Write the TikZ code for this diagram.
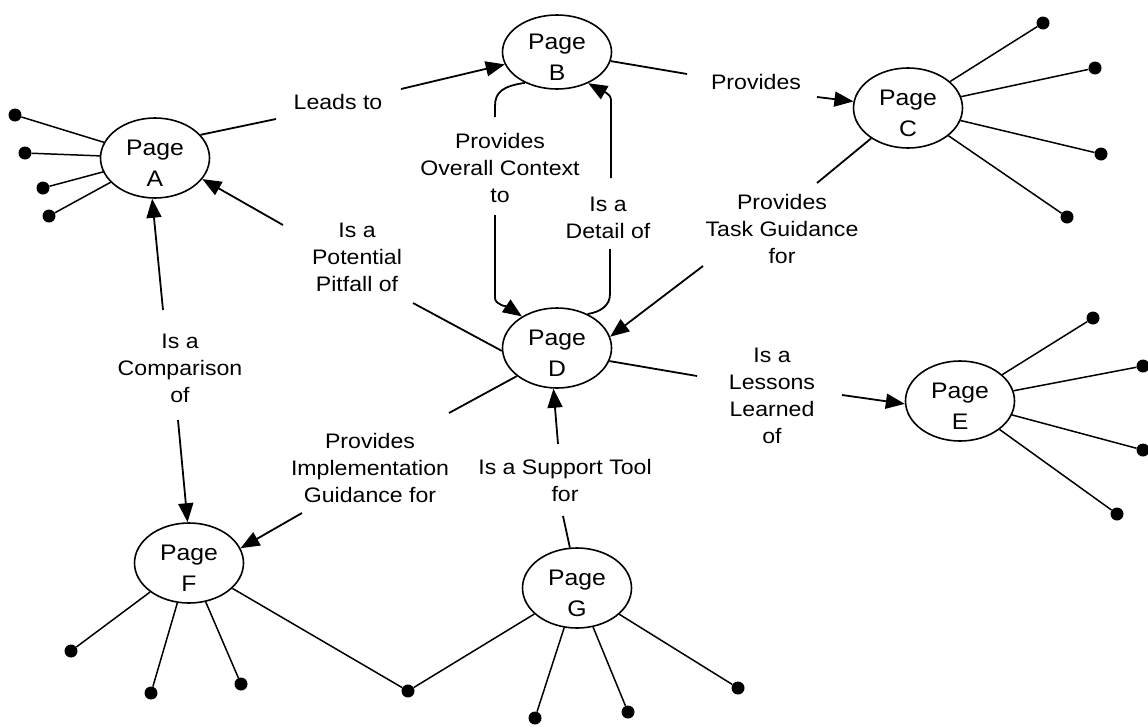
\documentclass[tikz,border=0pt]{standalone}
\usepackage{fontspec}
\setmainfont{Liberation Sans}[FakeStretch=1.1]
\usetikzlibrary{arrows.meta,shapes.geometric}
\begin{document}
\begin{tikzpicture}[x=1pt,y=-1pt,
  page/.style={draw, ellipse, line width=1.6pt, minimum width=109pt, minimum height=80pt, inner sep=0pt},
  pagetext/.style={align=center, font=\fontsize{22.5}{31}\selectfont, inner sep=0pt},
  lbl/.style={align=center, font=\fontsize{21}{27}\selectfont, inner sep=0pt},
  dot/.style={circle, fill, minimum size=13pt, inner sep=0pt},
  con/.style={line width=1.8pt},
  arr/.style={con, -{Triangle[length=19pt,width=15pt]}},
  leaf/.style={line width=1.5pt}]
\useasboundingbox (0,0) rectangle (1148,726);
% pages
\node[page] (A) at (155,158) {};
\node[page, minimum height=74pt] (B) at (557,52) {};
\node[page] (C) at (908,108) {};
\node[page] (D) at (557,348) {};
\node[page] (E) at (960,401) {};
\node[page] (F) at (189,563) {};
\node[page] (G) at (577,588) {};
\node[pagetext] (At) at (155,163) {Page\\A};
\node[pagetext] (Bt) at (557,57) {Page\\B};
\node[pagetext] (Ct) at (908,113) {Page\\C};
\node[pagetext] (Dt) at (557,353) {Page\\D};
\node[pagetext] (Et) at (960,406) {Page\\E};
\node[pagetext] (Ft) at (189,568) {Page\\F};
\node[pagetext] (Gt) at (577,593) {Page\\G};
% labels
\node[lbl] (Lleads) at (338,101.5) {Leads to};
\node[lbl] (Lprov) at (756,81.5) {Provides};
\node[lbl] (Lctx) at (500,167.5) {Provides\\Overall Context\\to};
\node[lbl] (Ldet) at (608,218) {Is a\\Detail of};
\node[lbl] (Ltask) at (782,229) {Provides\\Task Guidance\\for};
\node[lbl] (Lpit) at (357,257.5) {Is a\\Potential\\Pitfall of};
\node[lbl] (Lcmp) at (180,368) {Is a\\Comparison\\of};
\node[lbl] (Limp) at (370,468) {Provides\\Implementation\\Guidance for};
\node[lbl] (Lsup) at (565,480) {Is a Support Tool\\for};
\node[lbl] (Lles) at (772,396) {Is a\\Lessons\\Learned\\of};
% dots
\node[dot] (a1) at (15,115) {};
\node[dot] (a2) at (25,153) {};
\node[dot] (a3) at (43,188) {};
\node[dot] (a4) at (49,216) {};
\node[dot] (c1) at (1043,23) {};
\node[dot] (c2) at (1095,68) {};
\node[dot] (c3) at (1101,154) {};
\node[dot] (c4) at (1067,217) {};
\node[dot] (e1) at (1093,318) {};
\node[dot] (e2) at (1143,366) {};
\node[dot] (e3) at (1143,450) {};
\node[dot] (e4) at (1117,514) {};
\node[dot] (f1) at (71,651) {};
\node[dot] (f2) at (151,693) {};
\node[dot] (f3) at (241,684) {};
\node[dot] (m) at (408,691) {};
\node[dot] (g1) at (535,718) {};
\node[dot] (g2) at (628,712) {};
\node[dot] (g3) at (738,688) {};
\foreach \d in {a1,a2,a3,a4} \draw[leaf] (A) -- (\d);
\foreach \d in {c1,c2,c3,c4} \draw[leaf] (C) -- (\d);
\foreach \d in {e1,e2,e3,e4} \draw[leaf] (E) -- (\d);
\foreach \d in {f1,f2,f3,m} \draw[leaf] (F) -- (\d);
\foreach \d in {m,g1,g2,g3} \draw[leaf] (G) -- (\d);
% connector free ends
\coordinate (lt1) at (276,119); \coordinate (lt2) at (401,89);
\coordinate (pv1) at (687,74); \coordinate (pv2) at (817,97);
\coordinate (oc1) at (495,117); \coordinate (oc2) at (495,215); \coordinate (oc3) at (495,298);
\coordinate (dt1) at (610,249); \coordinate (dt2) at (611,178); \coordinate (dt3) at (611,100);
\coordinate (tg1) at (817,183); \coordinate (tg2) at (703,266);
\coordinate (pf1) at (413,303); \coordinate (pf2) at (283,225);
\coordinate (cp1) at (163,310); \coordinate (cp2) at (178,420);
\coordinate (im1) at (449,413); \coordinate (im2) at (302,513);
\coordinate (st1) at (563,516); \coordinate (st2) at (558,444);
\coordinate (ll1) at (697,376); \coordinate (ll2) at (842,395);
% connectors
\draw[con] (A.27) -- (lt1);
\draw[arr] (lt2) -- (B);
\draw[con] (B) -- (pv1);
\draw[arr] (pv2) -- (C);
\draw[con] (B.224) .. controls (503,86) and (495,92) .. (495,106) -- (oc1);
\draw[arr] (oc2) -- (oc3) .. controls (495,305) and (508,307) .. (D.138);
\draw[con] (D.48) .. controls (600,312) and (610,306) .. (610,294) -- (dt1);
\draw[arr] (dt2) -- (dt3) .. controls (611,93) and (600,90) .. (B.315);
\draw[con] (C) -- (tg1);
\draw[arr] (tg2) -- (D.12);
\draw[con] (D.183) -- (pf1);
\draw[arr] (pf2) -- (A.336);
\draw[arr] (cp1) -- (A.266);
\draw[arr] (cp2) -- (F.92);
\draw[con] (D.215) -- (im1);
\draw[arr] (im2) -- (F.16);
\draw[con] (G.100) -- (st1);
\draw[arr] (st2) -- (D.265);
\draw[con] (D.346) -- (ll1);
\draw[arr] (ll2) -- (E.183);
\end{tikzpicture}
\end{document}
